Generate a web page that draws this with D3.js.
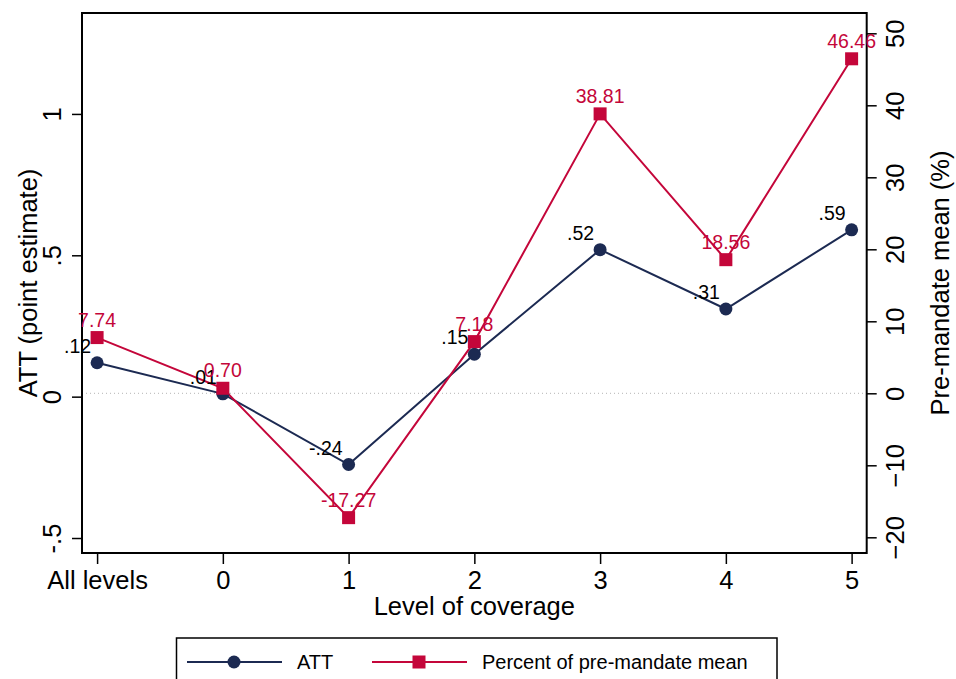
<!DOCTYPE html>
<html lang="en">
<head>
<meta charset="UTF-8">
<title>ATT by level of coverage</title>
<script src="https://d3js.org/d3.v7.min.js"></script>
<style>
body {margin: 0; background: white;}
svg {display: block; font-family: "Liberation Sans", Arial, Helvetica, sans-serif;}
</style>
</head>
<body>
<svg width="956" height="679"></svg>
<script>
// data
const levels = ["All levels", "0", "1", "2", "3", "4", "5"];
const attValues = [0.12, 0.01, -0.24, 0.15, 0.52, 0.31, 0.59];
const attLabels = [".12", ".01", "-.24", ".15", ".52", ".31", ".59"];
const pctValues = [7.74, 0.70, -17.27, 7.18, 38.81, 18.56, 46.46];
const pctLabels = ["7.74", "0.70", "-17.27", "7.18", "38.81", "18.56", "46.46"];
const leftTicks = [-0.5, 0, 0.5, 1];
const rightTicks = [-20, -10, 0, 10, 20, 30, 40, 50];

const navy = "#1c2a52", red = "#c4063a";
const L = 82, R = 866.7, T = 13, B = 553;
const axisFont = "25.5px";

const svg = d3.select("svg");

const x = d3.scalePoint().domain(levels).range([L, R]).padding(0.12);
const yL = d3.scaleLinear().domain([-0.553, 1.357]).range([B, T]);
const yR = d3.scaleLinear().domain([-22.18, 52.82]).range([B, T]);

const fmtL = d => String(d).replace("0.", ".");

// zero line (right axis)
svg.append("line")
  .attr("x1", L + 4).attr("x2", R - 2)
  .attr("y1", yR(0)).attr("y2", yR(0))
  .attr("stroke", "#b5b5b5").attr("stroke-width", 1)
  .attr("stroke-dasharray", "1,3");

// left axis
const gl = svg.append("g").attr("transform", "translate(" + L + ",0)")
  .call(d3.axisLeft(yL).tickValues(leftTicks).tickFormat(fmtL).tickSize(10));
gl.select(".domain").remove();
gl.selectAll("line").attr("stroke", "#000").attr("stroke-width", 1.5);
gl.selectAll("text")
  .attr("transform", "rotate(-90)")
  .attr("x", 0).attr("y", -21).attr("dy", 0)
  .attr("text-anchor", "middle")
  .attr("fill", "#000")
  .style("font-size", axisFont);

// right axis
const gr = svg.append("g").attr("transform", "translate(" + R + ",0)")
  .call(d3.axisRight(yR).tickValues(rightTicks).tickSize(10));
gr.select(".domain").remove();
gr.selectAll("line").attr("stroke", "#000").attr("stroke-width", 1.5);
gr.selectAll("text")
  .attr("transform", "rotate(-90)")
  .attr("x", 0).attr("y", 37).attr("dy", 0)
  .attr("text-anchor", "middle")
  .attr("fill", "#000")
  .style("font-size", axisFont);

// bottom axis
const gb = svg.append("g").attr("transform", "translate(0," + B + ")")
  .call(d3.axisBottom(x).tickSize(11));
gb.select(".domain").remove();
gb.selectAll("line").attr("stroke", "#000").attr("stroke-width", 1.5);
gb.selectAll("text")
  .attr("y", 36).attr("dy", 0)
  .attr("fill", "#000")
  .style("font-size", axisFont);

// frame
svg.append("rect")
  .attr("x", L).attr("y", T).attr("width", R - L).attr("height", B - T)
  .attr("fill", "none").attr("stroke", "#000").attr("stroke-width", 2);

// axis titles
svg.append("text")
  .attr("x", (L + R) / 2).attr("y", 615)
  .attr("text-anchor", "middle")
  .style("font-size", axisFont)
  .text("Level of coverage");

svg.append("text")
  .attr("transform", "translate(37," + (T + B) / 2 + ") rotate(-90)")
  .attr("text-anchor", "middle")
  .style("font-size", axisFont)
  .text("ATT (point estimate)");

svg.append("text")
  .attr("transform", "translate(949," + (T + B) / 2 + ") rotate(-90)")
  .attr("text-anchor", "middle")
  .style("font-size", axisFont)
  .text("Pre-mandate mean (%)");

// ATT series
const attLine = d3.line().x((d, i) => x(levels[i])).y(d => yL(d));
svg.append("path").datum(attValues)
  .attr("d", attLine)
  .attr("fill", "none").attr("stroke", navy).attr("stroke-width", 2);

// percent series
const pctLine = d3.line().x((d, i) => x(levels[i])).y(d => yR(d));
svg.append("path").datum(pctValues)
  .attr("d", pctLine)
  .attr("fill", "none").attr("stroke", red).attr("stroke-width", 2);

svg.append("g").selectAll("circle")
  .data(attValues)
  .enter()
  .append("circle")
  .attr("cx", (d, i) => x(levels[i]))
  .attr("cy", d => yL(d))
  .attr("r", 6.5)
  .attr("fill", navy);

svg.append("g").selectAll("rect")
  .data(pctValues)
  .enter()
  .append("rect")
  .attr("x", (d, i) => x(levels[i]) - 6.5)
  .attr("y", d => yR(d) - 6.5)
  .attr("width", 13).attr("height", 13)
  .attr("fill", red);

// marker labels
svg.append("g").selectAll("text")
  .data(attValues)
  .enter()
  .append("text")
  .attr("x", (d, i) => x(levels[i]) - 6)
  .attr("y", d => yL(d) - 10)
  .attr("text-anchor", "end")
  .style("font-size", "19.5px")
  .attr("fill", "#000")
  .text((d, i) => attLabels[i]);

svg.append("g").selectAll("text")
  .data(pctValues)
  .enter()
  .append("text")
  .attr("x", (d, i) => x(levels[i]))
  .attr("y", d => yR(d) - 11)
  .attr("text-anchor", "middle")
  .style("font-size", "19.5px")
  .attr("fill", red)
  .text((d, i) => pctLabels[i]);

// legend
const lg = svg.append("g");
lg.append("rect")
  .attr("x", 176.5).attr("y", 638).attr("width", 600.5).attr("height", 60)
  .attr("fill", "white").attr("stroke", "#000").attr("stroke-width", 1.5);
const ly = 662;
lg.append("line").attr("x1", 187).attr("x2", 282).attr("y1", ly).attr("y2", ly)
  .attr("stroke", navy).attr("stroke-width", 2);
lg.append("circle").attr("cx", 234).attr("cy", ly).attr("r", 6.5).attr("fill", navy);
lg.append("text").attr("x", 297).attr("y", ly + 7).style("font-size", "20px").text("ATT");
lg.append("line").attr("x1", 372).attr("x2", 467).attr("y1", ly).attr("y2", ly)
  .attr("stroke", red).attr("stroke-width", 2);
lg.append("rect").attr("x", 419 - 6.5).attr("y", ly - 6.5).attr("width", 13).attr("height", 13).attr("fill", red);
lg.append("text").attr("x", 482).attr("y", ly + 7).style("font-size", "20px").text("Percent of pre-mandate mean");
</script>
</body>
</html>
